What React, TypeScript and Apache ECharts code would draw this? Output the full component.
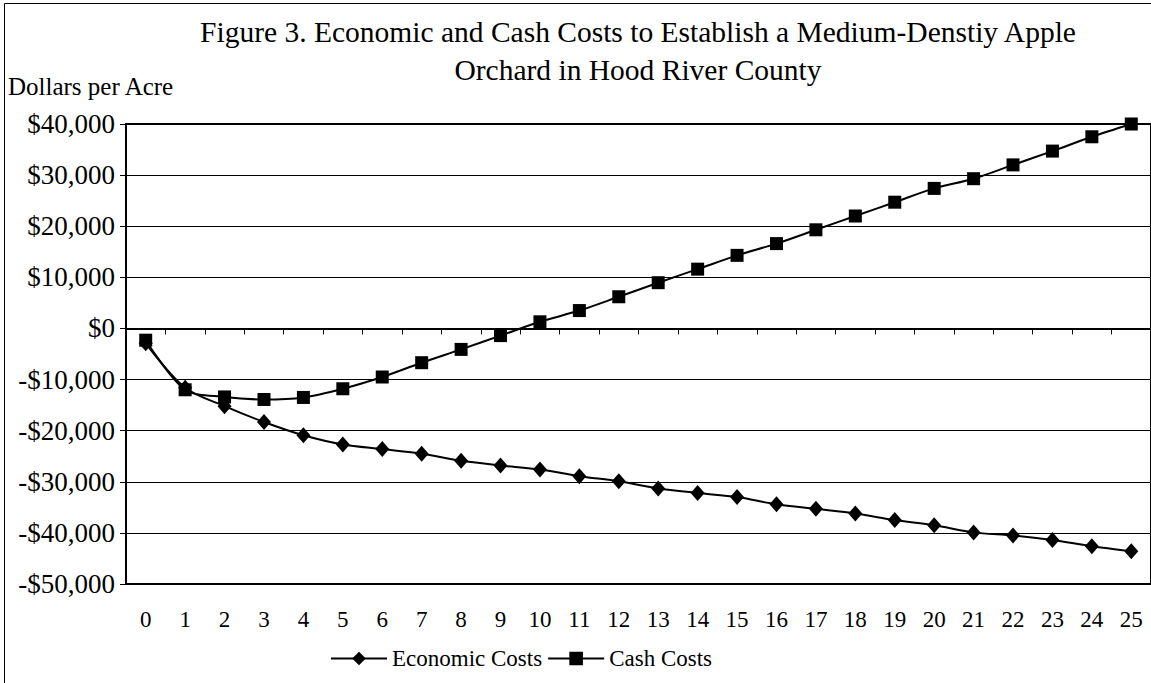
import React, { useEffect, useRef } from "react";
import * as echarts from "echarts";

const years = ["0","1","2","3","4","5","6","7","8","9","10","11","12","13","14","15","16","17","18","19","20","21","22","23","24","25"];
const economicCosts = [-2900, -11600, -15200, -18300, -20900, -22700, -23600, -24500, -25900, -26800, -27600, -28900, -29900, -31300, -32200, -33000, -34400, -35300, -36200, -37500, -38500, -39900, -40500, -41400, -42600, -43600];
const cashCosts = [-2300, -12000, -13400, -13900, -13500, -11800, -9500, -6700, -4100, -1400, 1300, 3500, 6200, 8950, 11600, 14300, 16600, 19300, 22000, 24700, 27400, 29300, 32000, 34700, 37500, 40000];
const titleLines = ["Figure 3. Economic and Cash Costs to Establish a Medium-Denstiy Apple", "Orchard in Hood River County"];
const yAxisTitle = "Dollars per Acre";

const FONT = "'Liberation Serif', 'Times New Roman', serif";

function fmt(v: number): string {
  const a = Math.abs(v).toLocaleString("en-US");
  return (v < 0 ? "-$" : "$") + a;
}

export default function App() {
  const ref = useRef<HTMLDivElement>(null);
  useEffect(() => {
    if (!ref.current) return;
    const chart = echarts.init(ref.current, null, { renderer: "svg" });
    chart.setOption({
      animation: false,
      backgroundColor: "#fff",
      textStyle: { fontFamily: FONT, color: "#000" },
      grid: { left: 126, top: 124, width: 1029, height: 460, show: true, borderColor: "#000", borderWidth: 2, backgroundColor: "transparent" },
      graphic: [
        { type: "rect", shape: { x: 4.5, y: 3.5, width: 1300, height: 900 }, style: { fill: "none", stroke: "#000", lineWidth: 1 }, silent: true },
        { type: "text", x: 638, y: 32, style: { text: titleLines[0], textAlign: "center", textVerticalAlign: "middle", font: `29.5px ${FONT}`, fill: "#000" } },
        { type: "text", x: 638, y: 70, style: { text: titleLines[1], textAlign: "center", textVerticalAlign: "middle", font: `29.5px ${FONT}`, fill: "#000" } },
        { type: "text", x: 8, y: 86, style: { text: yAxisTitle, textAlign: "left", textVerticalAlign: "middle", font: `25px ${FONT}`, fill: "#000" } },
      ],
      legend: {
        left: 325,
        top: 642,
        itemWidth: 56,
        itemHeight: 17,
        itemGap: 5,
        textStyle: { fontFamily: FONT, fontSize: 23, color: "#000" },
        data: ["Economic Costs", "Cash Costs"],
      },
      xAxis: {
        type: "category",
        data: years,
        boundaryGap: true,
        axisLine: { lineStyle: { color: "#000", width: 2 } },
        axisTick: { show: true, length: 6, lineStyle: { color: "#000", width: 1 } },
        axisLabel: { fontFamily: FONT, fontSize: 23, color: "#000", margin: 24, interval: 0 },
        splitLine: { show: false },
      },
      yAxis: {
        type: "value",
        min: -50000,
        max: 40000,
        interval: 10000,
        axisLine: { show: true, lineStyle: { color: "#000", width: 2 } },
        axisTick: { show: true, length: 6, lineStyle: { color: "#000", width: 1 } },
        axisLabel: { fontFamily: FONT, fontSize: 27, color: "#000", margin: 11, formatter: (v: number) => fmt(v) },
        splitLine: { show: true, lineStyle: { color: "#000", width: 1 } },
      },
      series: [
        {
          name: "Economic Costs",
          type: "line",
          data: economicCosts,
          smooth: 0.3,
          symbol: "diamond",
          symbolSize: [14, 16],
          clip: false,
          lineStyle: { color: "#000", width: 2 },
          itemStyle: { color: "#000" },
        },
        {
          name: "Cash Costs",
          type: "line",
          data: cashCosts,
          smooth: 0.3,
          symbol: "rect",
          symbolSize: 13,
          clip: false,
          lineStyle: { color: "#000", width: 2 },
          itemStyle: { color: "#000" },
        },
      ],
    });
    return () => chart.dispose();
  }, []);
  return <div ref={ref} style={{ position: "fixed", left: 0, top: 0, width: 1151, height: 683 }} />;
}
